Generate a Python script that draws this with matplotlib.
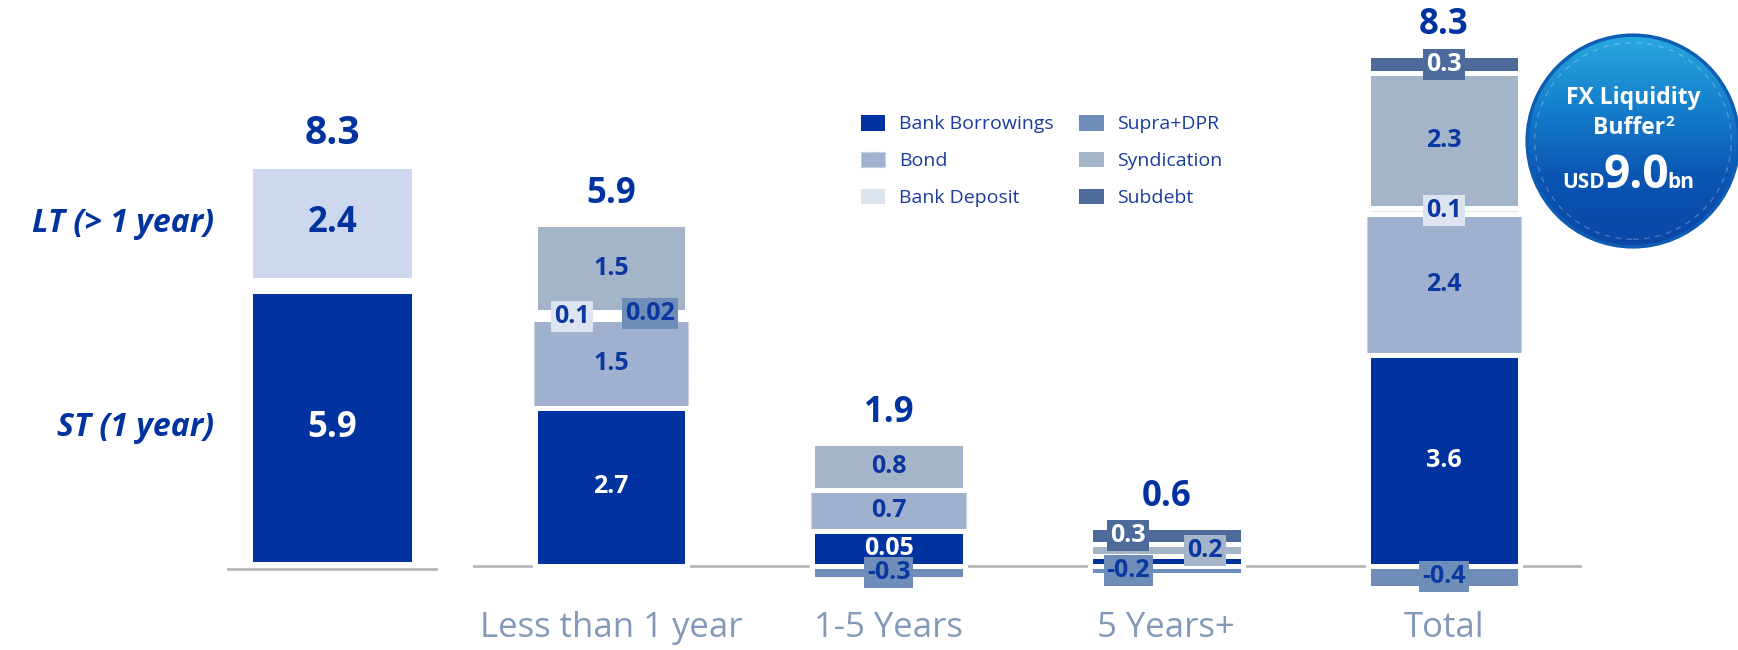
import numpy as np
import matplotlib
matplotlib.use('Agg')
import matplotlib.pyplot as plt
from matplotlib.patches import Patch, Circle

plt.rcParams['font.family'] = ['Open Sans', 'DejaVu Sans']

# ---- data -------------------------------------------------------------
# left panel: short term vs long term (USD bn)
left_names = ['ST (1 year)', 'LT (> 1 year)']
left_values = [5.9, 2.4]
left_total = '8.3'

# right panel: maturity profile
categories = ['Less than 1 year', '1-5 Years', '5 Years+', 'Total']
series = ['Bank Borrowings', 'Bond', 'Bank Deposit', 'Supra+DPR', 'Syndication', 'Subdebt']
# segment heights as drawn in the picture
bank_borrowings = [2.7, 0.6, 0.17, 3.6]
bond = [1.5, 0.7, 0.0, 2.4]
bank_deposit = [0.1, 0.0, 0.0, 0.1]
supra_dpr = [0.02, -0.22, -0.15, -0.37]
syndication = [1.5, 0.8, 0.2, 2.3]
subdebt = [0.0, 0.0, 0.3, 0.3]
# printed labels
bb_labels = ['2.7', '0.05', None, '3.6']
bond_labels = ['1.5', '0.7', None, '2.4']
bd_labels = ['0.1', None, None, '0.1']
supra_labels = ['0.02', '-0.3', '-0.2', '-0.4']
synd_labels = ['1.5', '0.8', '0.2', '2.3']
sub_labels = [None, None, '0.3', '0.3']
totals = ['5.9', '1.9', '0.6', '8.3']

# ---- styles -----------------------------------------------------------
colors = {
    'Bank Borrowings': '#0033a0',
    'Bond': '#9fb1cf',
    'Bank Deposit': '#dde3ef',
    'Supra+DPR': '#6f8db9',
    'Syndication': '#a4b5ca',
    'Subdebt': '#4d6a9b',
}
lt_color = '#cdd8ee'
text_blue = '#0033a0'
label_blue = '#0a37a0'
tick_color = '#8299b8'

heights = dict(zip(series, [bank_borrowings, bond, bank_deposit, supra_dpr, syndication, subdebt]))
labels = dict(zip(series, [bb_labels, bond_labels, bd_labels, supra_labels, synd_labels, sub_labels]))
white_text = {'Bank Borrowings', 'Subdebt'}
shifts = {('Bank Deposit', 0): -0.14, ('Supra+DPR', 0): 0.14,
          ('Subdebt', 2): -0.137, ('Syndication', 2): 0.14, ('Supra+DPR', 2): -0.137}

W, H = 1738, 650
fig = plt.figure(figsize=(W / 100, H / 100), dpi=100)
fig.patch.set_facecolor('white')


def px_axes(x0, y0, w, h):
    return fig.add_axes([x0 / W, 1 - (y0 + h) / H, w / W, h / H])


# ---- left panel -------------------------------------------------------
axl = px_axes(227, 0, 211, 650)
axl.set_xlim(-0.66, 0.66)
axl.set_ylim(-81 / 45.5, 569 / 45.5)
axl.axis('off')
axl.axhline(0, color='#b8b8b8', lw=2)

st_base = 0.15
lt_base = st_base + left_values[0] + 0.35
axl.bar(0, left_values[0], bottom=st_base, width=1.0, color=colors['Bank Borrowings'])
axl.bar(0, left_values[1], bottom=lt_base, width=1.0, color=lt_color)
axl.text(0, st_base + left_values[0] / 2, f'{left_values[0]}', ha='center', va='center',
         color='white', fontsize=25, fontweight='bold')
axl.text(0, lt_base + left_values[1] / 2, f'{left_values[1]}', ha='center', va='center',
         color=text_blue, fontsize=25, fontweight='bold')
axl.annotate(left_total, (0, lt_base + left_values[1]), xytext=(0, 25), textcoords='offset points',
             ha='center', va='center', color=text_blue, fontsize=28, fontweight='bold')
for name, b, v in zip(left_names, [st_base, lt_base], left_values):
    axl.annotate(name, (-0.66, b + v / 2), xytext=(-9, 0), textcoords='offset points',
                 ha='right', va='center', color=text_blue, fontsize=23,
                 fontweight='bold', fontstyle='italic', annotation_clip=False)

# ---- right panel ------------------------------------------------------
ax = px_axes(473, 0, 1109, 650)
ax.set_xlim(-0.497, 3.497)
ax.set_ylim(-84 / 58.7, 566 / 58.7)
ax.axis('off')
ax.axhline(0, color='#b8b8b8', lw=2, zorder=0)

x = np.arange(len(categories))
bar_w = 0.55
pos_bottom = np.zeros(len(categories))
bottoms = {}
for s in series:
    h = np.array(heights[s])
    b = np.where(h > 0, pos_bottom, 0.0)
    bottoms[s] = b
    pos_bottom = pos_bottom + np.clip(h, 0, None)

# bond first (no white edge, dotted outline)
ax.bar(x, heights['Bond'], bottom=bottoms['Bond'], width=bar_w + 0.006,
       color=colors['Bond'], edgecolor='#c3cbdd', linestyle=':', linewidth=1, zorder=1)
for s in series:
    if s == 'Bond':
        continue
    ax.bar(x, heights[s], bottom=bottoms[s], width=bar_w, color=colors[s],
           edgecolor='white', linewidth=3.6, zorder=2)

for s in series:
    for i, lab in enumerate(labels[s]):
        if lab is None:
            continue
        h = heights[s][i]
        yc = bottoms[s][i] + h / 2
        xc = x[i] + shifts.get((s, i), 0.0)
        tc = 'white' if s in white_text else label_blue
        box = None
        if abs(h) < 0.45:
            box = dict(boxstyle='square,pad=0.12', facecolor=colors[s], edgecolor='none')
        ax.text(xc, yc, lab, ha='center', va='center', color=tc, fontsize=18,
                fontweight='bold', bbox=box, zorder=5)

for i, t in enumerate(totals):
    ax.annotate(t, (x[i], pos_bottom[i]), xytext=(0, 21.6), textcoords='offset points',
                ha='center', va='center', color=text_blue, fontsize=25, fontweight='bold')

for i, c in enumerate(categories):
    ax.text(x[i], -84 / 58.7 + 22 / 58.7, c, ha='center', va='center',
            color=tick_color, fontsize=25)

# legend
handles = []
for s in series:
    if s == 'Bond':
        handles.append(Patch(facecolor=colors[s], edgecolor='#b8c2d6', linestyle=':', label=s))
    else:
        handles.append(Patch(facecolor=colors[s], edgecolor='none', label=s))
fig.legend(handles=handles, ncol=2, loc='upper left', bbox_to_anchor=(861 / W, 1 - 115 / H),
           frameon=False, fontsize=14, labelcolor='#1a3c9c', handlelength=1.25,
           handleheight=0.85, handletextpad=0.72, labelspacing=0.95, columnspacing=1.3,
           borderpad=0, borderaxespad=0)

# ---- FX liquidity badge -----------------------------------------------
axc = px_axes(1525, 33, 216, 216)
axc.set_xlim(0, 1)
axc.set_ylim(0, 1)
axc.axis('off')
grad = np.linspace(0, 1, 256).reshape(-1, 1)
cmap = matplotlib.colors.LinearSegmentedColormap.from_list(
    'badge', ['#2aa9e0', '#1580cc', '#0b55b2', '#0a45a5'])
img = axc.imshow(grad, extent=(0, 1, 0, 1), origin='upper', cmap=cmap, aspect='auto')
circ = Circle((0.5, 0.5), 0.495, transform=axc.transData, facecolor='none')
axc.add_patch(circ)
img.set_clip_path(circ)
axc.add_patch(Circle((0.5, 0.5), 0.49, facecolor='none', edgecolor='#0e5db4', lw=2.5))
axc.add_patch(Circle((0.5, 0.5), 0.455, facecolor='none', edgecolor='white', lw=1,
                     linestyle=(0, (4, 4)), alpha=0.25))
axc.text(0.5, 0.699, 'FX Liquidity', ha='center', va='center', color='white',
         fontsize=16.5, fontweight='bold')
buf = axc.text(0.48, 0.56, 'Buffer', ha='center', va='center', color='white',
               fontsize=16.5, fontweight='bold')
big = axc.text(0.514, 0.282, '9.0', ha='center', va='baseline', color='white',
               fontsize=33, fontweight='bold')
fig.canvas.draw()
inv = axc.transAxes.inverted()
bf = buf.get_window_extent().transformed(inv)
axc.text(bf.x1 + 0.005, 0.59, '2', ha='left', va='center', color='white',
         fontsize=11, fontweight='bold')
bb = big.get_window_extent().transformed(inv)
axc.text(bb.x0 + 0.01, 0.282, 'USD', ha='right', va='baseline', color='white',
         fontsize=15, fontweight='bold')
axc.text(bb.x1 - 0.005, 0.282, 'bn', ha='left', va='baseline', color='white',
         fontsize=15, fontweight='bold')

fig.savefig('out.png', dpi=100, facecolor='white')
